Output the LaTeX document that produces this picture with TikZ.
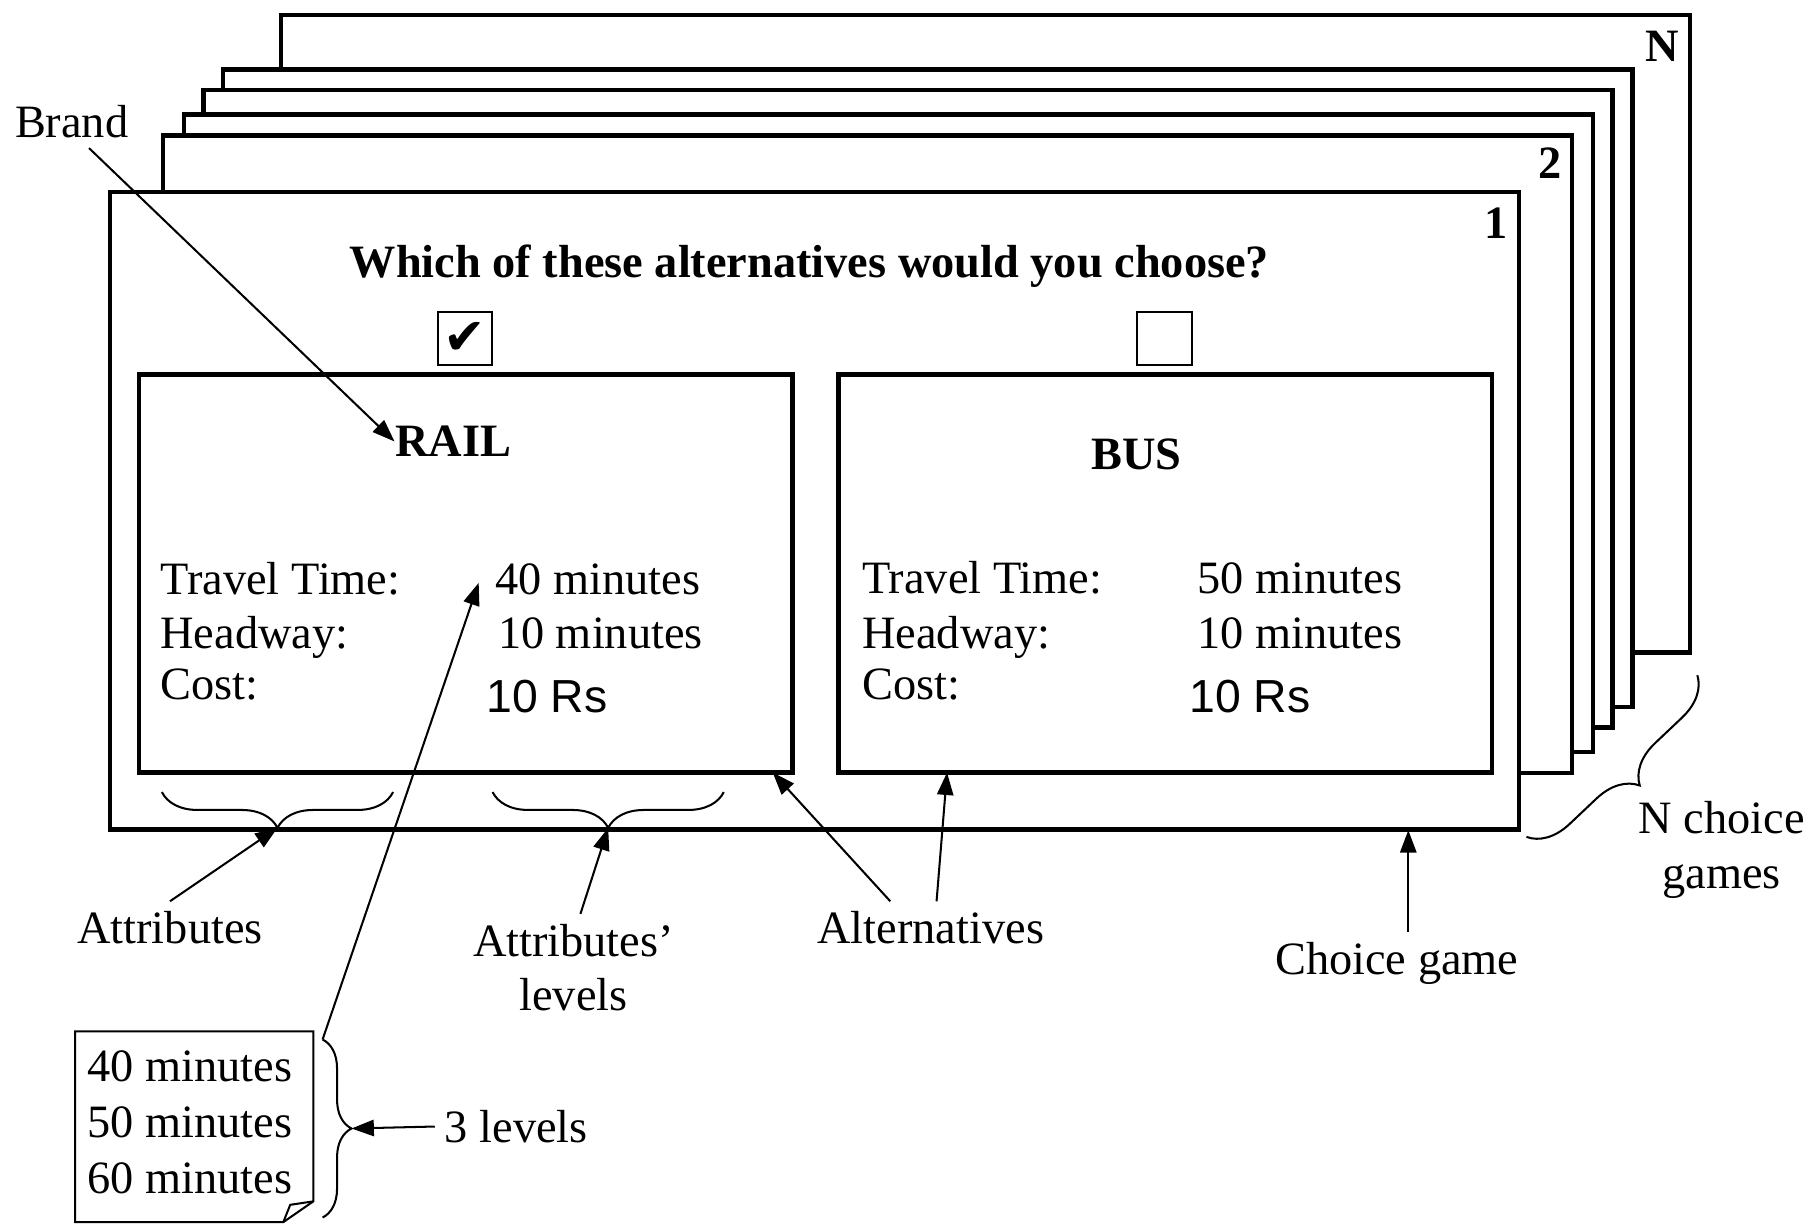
\documentclass[tikz,border=0pt]{standalone}
\usepackage{fontspec}
\setmainfont{Liberation Serif}
\setsansfont{Liberation Sans}
\newfontfamily\dingfont{DejaVu Sans}
\usetikzlibrary{arrows.meta,decorations.pathreplacing}

\newcommand\figtext{\fontsize{11.4pt}{13.4pt}\selectfont}

\tikzset{
  card/.style={draw, fill=white, line width=1.1pt, outer sep=0pt,
    minimum width=12.18cm, minimum height=5.51cm, anchor=north west},
  altbox/.style={draw, line width=1.1pt, outer sep=0pt,
    minimum width=5.65cm, minimum height=3.44cm, anchor=north west},
  tick/.style={draw, line width=0.5pt, inner sep=0pt,
    minimum width=0.47cm, minimum height=0.46cm},
  txt/.style={inner sep=0pt, font=\figtext},
  cardnum/.style={inner sep=0pt, font=\figtext\bfseries, anchor=north east},
  lbl/.style={inner sep=0.08cm, font=\figtext, align=center},
  pointer/.style={-{Triangle[length=5.5pt,width=4pt]}, line width=0.5pt},
  curly/.style={decorate, decoration={brace, amplitude=#1}, line width=0.5pt},
}

\begin{document}
\begin{tikzpicture}[x=0.01cm, y=-0.01cm]
  \useasboundingbox (0, 0) rectangle (1568, 1060);

  % stack of choice games, back to front
  \node[card] (cardN) at (243, 13) {};
  \node[card] (card5) at (193, 60) {};
  \node[card] (card4) at (176, 78) {};
  \node[card] (card3) at (159, 99) {};
  \node[card] (card2) at (141, 117) {};
  \node[card] (card1) at (95, 166) {};
  \node[cardnum] at ([xshift=-0.09cm, yshift=-0.13cm]cardN.north east) {N};
  \node[cardnum] at ([xshift=-0.08cm, yshift=-0.10cm]card2.north east) {2};
  \node[cardnum] at ([xshift=-0.09cm, yshift=-0.13cm]card1.north east) {1};

  \node[txt, font=\figtext\bfseries, anchor=base] (question) at (700, 240)
    {Which of these alternatives would you choose?};
  \node[tick] (pick1) at (402, 293) {\dingfont\fontsize{12.5pt}{14pt}\selectfont ✔};
  \node[tick] (pick2) at (1007, 293) {};

  % the two alternatives
  \node[altbox] (railbox) at (120, 324) {};
  \node[altbox] (busbox) at (725, 324) {};

  \node[txt, font=\figtext\bfseries, anchor=base] (railname) at (392, 395) {RAIL};
  \node[txt, anchor=base west] (rtt) at (138, 514) {Travel Time:};
  \node[txt, anchor=base west] (rhw) at (138, 561) {Headway:};
  \node[txt, anchor=base west] (rcs) at (138, 605) {Cost:};
  \node[txt, anchor=base west] (rtv) at (428, 514) {40 minutes};
  \node[txt, anchor=base west] (rhv) at (430, 561) {10 minutes};
  \node[txt, anchor=base west, font=\figtext\sffamily] (rcv) at (420, 616) {10 Rs};

  \node[txt, font=\figtext\bfseries, anchor=base] (busname) at (983, 406) {BUS};
  \node[txt, anchor=base west] (btt) at (745, 513) {Travel Time:};
  \node[txt, anchor=base west] (bhw) at (745, 561) {Headway:};
  \node[txt, anchor=base west] (bcs) at (745, 605) {Cost:};
  \node[txt, anchor=base west] (btv) at (1035, 513) {50 minutes};
  \node[txt, anchor=base west] (bhv) at (1035, 561) {10 minutes};
  \node[txt, anchor=base west, font=\figtext\sffamily] (bcv) at (1028, 616) {10 Rs};

  % braces
  \coordinate (attrtip) at (240, 716);
  \coordinate (leveltip) at (526, 716);
  \coordinate (lvtop) at (279, 899);
  \coordinate (lvtip) at (304, 976);
  \coordinate (gametip) at (1218, 718);
  \draw[curly=0.31cm] (340, 685) -- (140, 685);
  \draw[curly=0.31cm] (626, 685) -- (426, 685);
  \draw[curly=0.25cm] (lvtop) -- (279, 1053);
  \draw[curly=0.35cm] (1468, 584) -- (1320, 724);

  % list of levels
  \draw[line width=0.5pt] (65, 1057) -- (65, 892) -- (271, 892) -- (271, 1039)
    -- (245, 1057) -- cycle;
  \draw[line width=0.5pt] (271, 1039) -- (251, 1042) -- (245, 1057);
  \node[txt, anchor=base west, align=left, font=\fontsize{11.4pt}{13.7pt}\selectfont]
    (levlist) at (75, 1032) {40 minutes\\50 minutes\\60 minutes};

  % labels
  \node[lbl, anchor=base] (brand) at (62, 119) {Brand};
  \node[lbl, anchor=base] (attrlbl) at (147, 816) {Attributes};
  \node[lbl, anchor=base] (levlbl) at (496, 874) {Attributes’\\levels};
  \node[lbl, anchor=base] (altlbl) at (805, 816) {Alternatives};
  \node[lbl, anchor=base] (choicelbl) at (1208, 843) {Choice game};
  \node[lbl, anchor=base] (gameslbl) at (1489, 768) {N choice\\games};
  \node[lbl, anchor=base west] (threelbl) at (376, 988) {3 levels};

  % pointers
  \draw[pointer] ([xshift=0.15cm]brand.south) -- (railname.west);
  \draw[pointer] (attrlbl.north) -- (attrtip);
  \draw[pointer] ([xshift=0.06cm]levlbl.north) -- (leveltip);
  \draw[pointer] ([xshift=-0.35cm]altlbl.north) -- ([xshift=-0.17cm]railbox.south east);
  \draw[pointer] ([xshift=0.05cm]altlbl.north) -- ([xshift=0.94cm]busbox.south west);
  \draw[pointer] (choicelbl.north -| gametip) -- (gametip);
  \draw[pointer] (threelbl.west) -- (lvtip);
  \draw[pointer] (lvtop) -- ([shift={(-0.14cm,0.11cm)}]rtv.south west);
\end{tikzpicture}
\end{document}
